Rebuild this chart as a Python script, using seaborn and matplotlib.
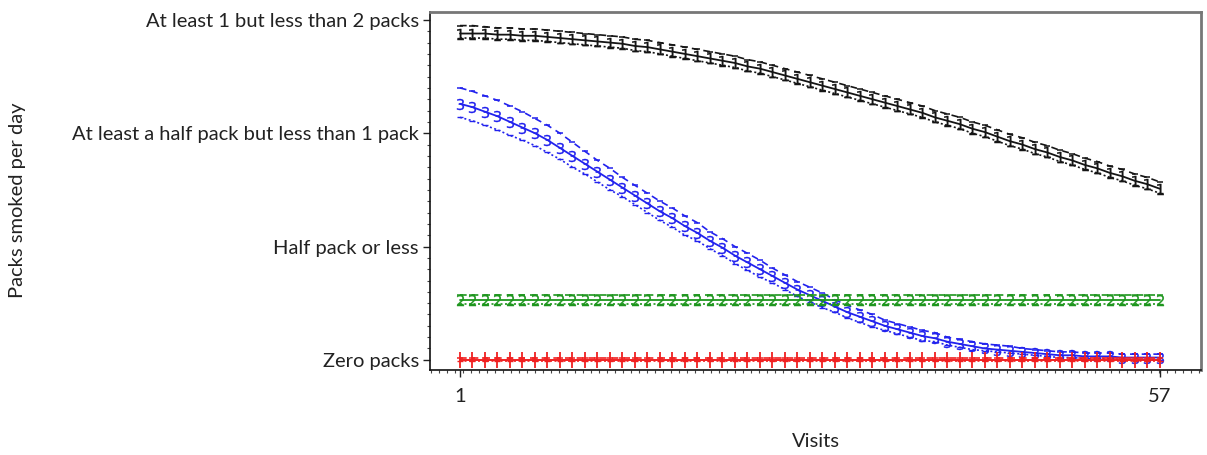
import matplotlib
matplotlib.use("Agg")
import matplotlib.pyplot as plt
from matplotlib.ticker import MultipleLocator, FixedLocator
import seaborn as sns
import pandas as pd

visits = list(range(1, 58))
y_tick_values = [0, 1, 2, 3]
y_tick_labels = ["Zero packs", "Half pack or less",
                 "At least a half pack but less than 1 pack",
                 "At least 1 but less than 2 packs"]
x_tick_values = [1, 57]
x_tick_labels = ["1", "57"]

black_mid = [2.88, 2.88, 2.88, 2.87, 2.87, 2.86, 2.86, 2.85, 2.84, 2.83,
             2.82, 2.81, 2.80, 2.79, 2.77, 2.76, 2.74, 2.72, 2.70, 2.68,
             2.66, 2.64, 2.62, 2.59, 2.57, 2.54, 2.51, 2.48, 2.45, 2.42,
             2.39, 2.36, 2.33, 2.30, 2.27, 2.24, 2.21, 2.18, 2.14, 2.11,
             2.08, 2.04, 2.01, 1.97, 1.93, 1.90, 1.86, 1.83, 1.79, 1.76,
             1.72, 1.69, 1.65, 1.62, 1.58, 1.55, 1.51]
black_up = [2.95, 2.95, 2.94, 2.93, 2.93, 2.92, 2.92, 2.91, 2.90, 2.89,
            2.88, 2.87, 2.86, 2.85, 2.83, 2.82, 2.80, 2.78, 2.76, 2.74,
            2.72, 2.70, 2.68, 2.65, 2.63, 2.60, 2.57, 2.54, 2.51, 2.48,
            2.45, 2.42, 2.39, 2.36, 2.33, 2.30, 2.27, 2.24, 2.20, 2.17,
            2.14, 2.10, 2.07, 2.03, 1.99, 1.96, 1.92, 1.89, 1.85, 1.82,
            1.78, 1.75, 1.71, 1.68, 1.64, 1.61, 1.57]
black_low = [2.84, 2.84, 2.84, 2.83, 2.83, 2.82, 2.82, 2.81, 2.80, 2.79,
             2.78, 2.77, 2.76, 2.75, 2.73, 2.72, 2.70, 2.68, 2.66, 2.64,
             2.62, 2.60, 2.58, 2.55, 2.53, 2.50, 2.47, 2.44, 2.41, 2.38,
             2.35, 2.32, 2.29, 2.26, 2.23, 2.20, 2.17, 2.14, 2.10, 2.07,
             2.04, 2.00, 1.97, 1.93, 1.89, 1.86, 1.82, 1.79, 1.75, 1.72,
             1.68, 1.65, 1.61, 1.58, 1.54, 1.51, 1.47]

blue_mid = [2.26, 2.23, 2.19, 2.15, 2.10, 2.05, 2.00, 1.94, 1.87, 1.80,
            1.73, 1.66, 1.59, 1.52, 1.45, 1.38, 1.31, 1.25, 1.18, 1.12,
            1.05, 0.99, 0.92, 0.86, 0.80, 0.74, 0.68, 0.62, 0.57, 0.52,
            0.47, 0.42, 0.38, 0.34, 0.30, 0.27, 0.24, 0.21, 0.19, 0.16,
            0.14, 0.12, 0.10, 0.09, 0.08, 0.07, 0.06, 0.05, 0.04, 0.04,
            0.03, 0.03, 0.03, 0.02, 0.02, 0.02, 0.02]
blue_up = [2.40, 2.37, 2.33, 2.29, 2.24, 2.19, 2.13, 2.07, 2.00, 1.92,
           1.84, 1.76, 1.69, 1.61, 1.54, 1.47, 1.40, 1.34, 1.27, 1.21,
           1.13, 1.07, 1.00, 0.94, 0.88, 0.81, 0.75, 0.69, 0.64, 0.59,
           0.53, 0.48, 0.44, 0.40, 0.35, 0.32, 0.29, 0.26, 0.24, 0.20,
           0.18, 0.16, 0.14, 0.13, 0.12, 0.10, 0.09, 0.08, 0.07, 0.07,
           0.06, 0.06, 0.06, 0.05, 0.05, 0.05, 0.05]
blue_low = [2.14, 2.11, 2.07, 2.03, 1.98, 1.94, 1.89, 1.83, 1.77, 1.70,
            1.64, 1.57, 1.50, 1.44, 1.37, 1.30, 1.23, 1.17, 1.10, 1.05,
            0.98, 0.92, 0.85, 0.79, 0.73, 0.68, 0.62, 0.56, 0.51, 0.46,
            0.42, 0.37, 0.33, 0.29, 0.26, 0.23, 0.20, 0.17, 0.16, 0.13,
            0.11, 0.09, 0.08, 0.07, 0.06, 0.05, 0.04, 0.03, 0.02, 0.02,
            0.01, 0.01, 0.01, 0.00, 0.00, 0.00, 0.00]

green_mid = [0.53, 0.53, 0.53, 0.53, 0.53, 0.53, 0.53, 0.53, 0.53, 0.53,
             0.53, 0.53, 0.53, 0.53, 0.53, 0.53, 0.53, 0.53, 0.53, 0.53,
             0.53, 0.53, 0.53, 0.53, 0.53, 0.53, 0.53, 0.53, 0.53, 0.53,
             0.53, 0.53, 0.53, 0.53, 0.53, 0.53, 0.53, 0.53, 0.53, 0.53,
             0.53, 0.53, 0.53, 0.53, 0.53, 0.53, 0.53, 0.53, 0.53, 0.53,
             0.53, 0.53, 0.53, 0.53, 0.53, 0.53, 0.53]
green_up = [0.57, 0.57, 0.57, 0.57, 0.57, 0.57, 0.57, 0.57, 0.57, 0.57,
            0.57, 0.57, 0.57, 0.57, 0.57, 0.57, 0.57, 0.57, 0.57, 0.57,
            0.57, 0.57, 0.57, 0.57, 0.57, 0.57, 0.57, 0.57, 0.57, 0.57,
            0.57, 0.57, 0.57, 0.57, 0.57, 0.57, 0.57, 0.57, 0.57, 0.57,
            0.57, 0.57, 0.57, 0.57, 0.57, 0.57, 0.57, 0.57, 0.57, 0.57,
            0.57, 0.57, 0.57, 0.57, 0.57, 0.57, 0.57]
green_low = [0.49, 0.49, 0.49, 0.49, 0.49, 0.49, 0.49, 0.49, 0.49, 0.49,
             0.49, 0.49, 0.49, 0.49, 0.49, 0.49, 0.49, 0.49, 0.49, 0.49,
             0.49, 0.49, 0.49, 0.49, 0.49, 0.49, 0.49, 0.49, 0.49, 0.49,
             0.49, 0.49, 0.49, 0.49, 0.49, 0.49, 0.49, 0.49, 0.49, 0.49,
             0.49, 0.49, 0.49, 0.49, 0.49, 0.49, 0.49, 0.49, 0.49, 0.49,
             0.49, 0.49, 0.49, 0.49, 0.49, 0.49, 0.49]

red_mid = [0.00, 0.00, 0.00, 0.00, 0.00, 0.00, 0.00, 0.00, 0.00, 0.00,
           0.00, 0.00, 0.00, 0.00, 0.00, 0.00, 0.00, 0.00, 0.00, 0.00,
           0.00, 0.00, 0.00, 0.00, 0.00, 0.00, 0.00, 0.00, 0.00, 0.00,
           0.00, 0.00, 0.00, 0.00, 0.00, 0.00, 0.00, 0.00, 0.00, 0.00,
           0.00, 0.00, 0.00, 0.00, 0.00, 0.00, 0.00, 0.00, 0.00, 0.00,
           0.00, 0.00, 0.00, 0.00, 0.00, 0.00, 0.00]
red_up = [0.02, 0.02, 0.02, 0.02, 0.02, 0.02, 0.02, 0.02, 0.02, 0.02,
          0.02, 0.02, 0.02, 0.02, 0.02, 0.02, 0.02, 0.02, 0.02, 0.02,
          0.02, 0.02, 0.02, 0.02, 0.02, 0.02, 0.02, 0.02, 0.02, 0.02,
          0.02, 0.02, 0.02, 0.02, 0.02, 0.02, 0.02, 0.02, 0.02, 0.02,
          0.02, 0.02, 0.02, 0.02, 0.02, 0.02, 0.02, 0.02, 0.02, 0.02,
          0.02, 0.02, 0.02, 0.02, 0.02, 0.02, 0.02]
red_low = [-0.01, -0.01, -0.01, -0.01, -0.01, -0.01, -0.01, -0.01, -0.01, -0.01,
           -0.01, -0.01, -0.01, -0.01, -0.01, -0.01, -0.01, -0.01, -0.01, -0.01,
           -0.01, -0.01, -0.01, -0.01, -0.01, -0.01, -0.01, -0.01, -0.01, -0.01,
           -0.01, -0.01, -0.01, -0.01, -0.01, -0.01, -0.01, -0.01, -0.01, -0.01,
           -0.01, -0.01, -0.01, -0.01, -0.01, -0.01, -0.01, -0.01, -0.01, -0.01,
           -0.01, -0.01, -0.01, -0.01, -0.01, -0.01, -0.01]

series = [
    ("black", "#151515", "$1$", black_mid, black_up, black_low),
    ("blue", "#2222ee", "$3$", blue_mid, blue_up, blue_low),
    ("green", "#1e961e", "$2$", green_mid, green_up, green_low),
    ("red", "#f02020", "+", red_mid, red_up, red_low),
]

sns.set_theme(style="white")
plt.rcParams["font.family"] = ["Lato", "DejaVu Sans"]

fig = plt.figure(figsize=(12.07, 4.55), dpi=100)
ax = fig.add_axes([430 / 1207, 1 - 370 / 455, (1201 - 430) / 1207, (370 - 12) / 455])

for name, color, mk, mid, up, low in series:
    df = pd.DataFrame({"visit": visits, "mid": mid, "up": up, "low": low})
    sns.lineplot(data=df, x="visit", y="up", ax=ax, color=color, linestyle=(0, (4, 3)),
                 linewidth=1.2, marker="_", markersize=5, markeredgewidth=1.1,
                 markeredgecolor=color)
    sns.lineplot(data=df, x="visit", y="low", ax=ax, color=color, linestyle=(0, (1.2, 1.5)),
                 linewidth=1.2, marker="_", markersize=4, markeredgewidth=1.0,
                 markeredgecolor=color)
    if mk == "+":
        sns.lineplot(data=df, x="visit", y="mid", ax=ax, color=color, linewidth=1.4,
                     marker="|", markersize=11, markeredgewidth=1.3,
                     markeredgecolor=color)
    else:
        sns.lineplot(data=df, x="visit", y="mid", ax=ax, color=color, linewidth=1.3,
                     marker=mk, markersize=8, markeredgewidth=0.2,
                     markeredgecolor=color, markerfacecolor=color)

ax.set_xlim(-1.4, 60.3)
ax.set_ylim(-0.09, 3.07)

ax.yaxis.set_major_locator(FixedLocator(y_tick_values))
ax.set_yticklabels(y_tick_labels)
ax.yaxis.set_minor_locator(MultipleLocator(0.1))
ax.xaxis.set_major_locator(FixedLocator(x_tick_values))
ax.set_xticklabels(x_tick_labels)
ax.xaxis.set_minor_locator(MultipleLocator(0.64))

ax.tick_params(axis="both", which="major", direction="out", length=5, width=1,
               color="#222222", labelsize=14.5, labelcolor="#222222", pad=3)
ax.tick_params(axis="both", which="minor", direction="out", length=2.5, width=0.8,
               color="#444444")
ax.tick_params(axis="x", which="major", pad=8)
ax.tick_params(left=True, bottom=True, which="both")

for side in ["left", "bottom"]:
    ax.spines[side].set_color("#111111")
    ax.spines[side].set_linewidth(1.2)
for side in ["top", "right"]:
    ax.spines[side].set_color("#777777")
    ax.spines[side].set_linewidth(2)

ax.set_xlabel("Visits", fontsize=14.5, color="#222222", labelpad=20)
ax.set_ylabel("")
fig.text(18 / 1207, 1 - 200 / 455, "Packs smoked per day", rotation=90,
         ha="center", va="center", fontsize=14.5, color="#222222")

fig.savefig("out.png", dpi=100, facecolor="white")
